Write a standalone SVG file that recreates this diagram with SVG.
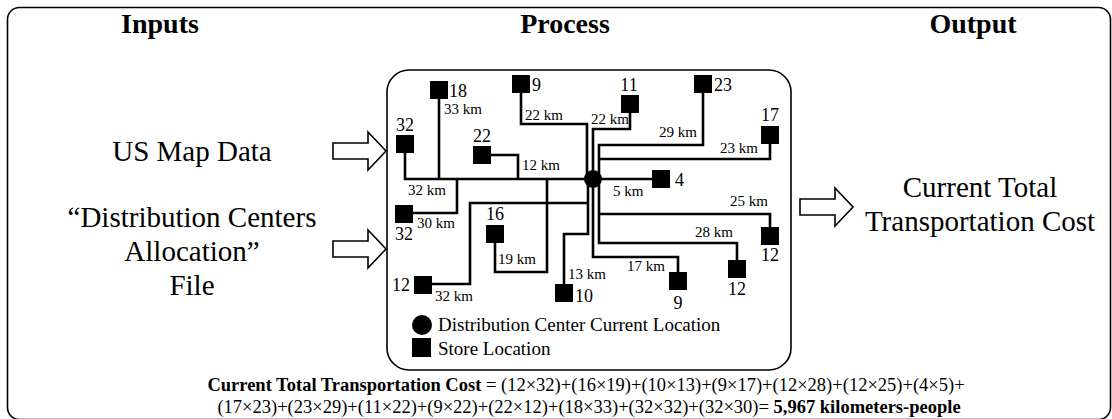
<svg xmlns="http://www.w3.org/2000/svg" width="1112" height="419" viewBox="0 0 1112 419">
<style>
text{font-family:"Liberation Serif","Times New Roman",serif;fill:#000}
.title{font-size:28px;font-weight:bold;text-anchor:middle}
.big{font-size:29px;text-anchor:middle}
.num{font-size:18px}
.km{font-size:15px}
.leg{font-size:19px}
.f{font-size:18.5px;text-anchor:middle}
.store{fill:#000}
.road{fill:none;stroke:#000;stroke-width:2.6;stroke-linejoin:miter}
.arrow{fill:#fff;stroke:#000;stroke-width:1.6}
</style>
<defs>
<path id="blk" d="M0,-8 H35 V-19 L53,0 L35,19 V8 H0 Z"/>
</defs>
<rect id="frame" x="7.5" y="7.5" width="1103" height="412" rx="12" fill="none" stroke="#000" stroke-width="1.6"/>
<g id="titles">
<text class="title" x="160" y="33">Inputs</text>
<text class="title" x="565" y="33">Process</text>
<text class="title" x="973" y="33">Output</text>
</g>
<g id="inputs">
<text class="big" x="192" y="161">US Map Data</text>
<text class="big" x="192" y="227">“Distribution Centers</text>
<text class="big" x="192" y="261">Allocation”</text>
<text class="big" x="192" y="295">File</text>
</g>
<g id="arrows">
<use href="#blk" class="arrow" x="333" y="151"/>
<use href="#blk" class="arrow" x="333" y="249"/>
<use href="#blk" class="arrow" x="800" y="207"/>
</g>
<g id="output">
<text class="big" x="980" y="197">Current Total</text>
<text class="big" x="980" y="231">Transportation Cost</text>
</g>
<rect id="process" x="387" y="70" width="404" height="300" rx="22" fill="none" stroke="#000" stroke-width="1.6"/>
<g id="connectors">
<polyline class="road" points="405,153 405,179 592,179"/>
<polyline class="road" points="439,98 439,179"/>
<polyline class="road" points="491,155 518,155 518,179"/>
<polyline class="road" points="413,213 457,213 457,179"/>
<polyline class="road" points="495,243 495,272 547,272 547,179"/>
<polyline class="road" points="432,284 470,284 470,203 588,203"/>
<polyline class="road" points="564,284 564,234 588,234 588,179"/>
<polyline class="road" points="521,93 521,124 587,124 587,179"/>
<polyline class="road" points="630,113 630,129 593,129 593,257 678,257 678,272"/>
<polyline class="road" points="703,93 703,145 599,145 599,243 737,243 737,260"/>
<polyline class="road" points="770,126 770,159 599,159"/>
<polyline class="road" points="599,214 770,214 770,227"/>
<polyline class="road" points="592,179 652,179"/>
</g>
<g id="dc"><circle cx="593" cy="179" r="9"/></g>
<g id="stores" class="store">
<rect x="430" y="81" width="18" height="18"/>
<rect x="396" y="135" width="18" height="18"/>
<rect x="473" y="146" width="18" height="18"/>
<rect x="512" y="75" width="18" height="18"/>
<rect x="621" y="95" width="18" height="18"/>
<rect x="694" y="75" width="18" height="18"/>
<rect x="761" y="126" width="18" height="18"/>
<rect x="652" y="170" width="18" height="18"/>
<rect x="395" y="205" width="18" height="18"/>
<rect x="761" y="227" width="18" height="18"/>
<rect x="486" y="225" width="18" height="18"/>
<rect x="728" y="260" width="18" height="18"/>
<rect x="414" y="276" width="18" height="18"/>
<rect x="669" y="272" width="18" height="18"/>
<rect x="555" y="284" width="18" height="18"/>
</g>
<g id="store-labels">
<text class="num" x="449" y="97">18</text>
<text class="num" x="405" y="131" text-anchor="middle">32</text>
<text class="num" x="482" y="142" text-anchor="middle">22</text>
<text class="num" x="532" y="91">9</text>
<text class="num" x="629" y="91" text-anchor="middle">11</text>
<text class="num" x="714" y="91">23</text>
<text class="num" x="770" y="121" text-anchor="middle">17</text>
<text class="num" x="675" y="186">4</text>
<text class="num" x="404" y="240" text-anchor="middle">32</text>
<text class="num" x="770" y="261" text-anchor="middle">12</text>
<text class="num" x="495" y="220" text-anchor="middle">16</text>
<text class="num" x="737" y="295" text-anchor="middle">12</text>
<text class="num" x="410" y="291" text-anchor="end">12</text>
<text class="num" x="678" y="309" text-anchor="middle">9</text>
<text class="num" x="575" y="302">10</text>
</g>
<g id="km-labels">
<text class="km" x="444" y="114">33 km</text>
<text class="km" x="525" y="120">22 km</text>
<text class="km" x="591" y="124">22 km</text>
<text class="km" x="659" y="137">29 km</text>
<text class="km" x="720" y="153">23 km</text>
<text class="km" x="522" y="170">12 km</text>
<text class="km" x="613" y="196">5 km</text>
<text class="km" x="408" y="195">32 km</text>
<text class="km" x="417" y="228">30 km</text>
<text class="km" x="730" y="206">25 km</text>
<text class="km" x="498" y="264">19 km</text>
<text class="km" x="695" y="237">28 km</text>
<text class="km" x="435" y="301">32 km</text>
<text class="km" x="568" y="279">13 km</text>
<text class="km" x="627" y="271">17 km</text>
</g>
<g id="legend">
<circle cx="422" cy="325" r="10"/>
<text class="leg" x="438" y="331">Distribution Center Current Location</text>
<rect x="412" y="338" width="19" height="19"/>
<text class="leg" x="438" y="355">Store Location</text>
</g>
<g id="formula">
<text class="f" x="586" y="391"><tspan font-weight="bold">Current Total Transportation Cost</tspan> = (12×32)+(16×19)+(10×13)+(9×17)+(12×28)+(12×25)+(4×5)+</text>
<text class="f" x="589" y="413">(17×23)+(23×29)+(11×22)+(9×22)+(22×12)+(18×33)+(32×32)+(32×30)= <tspan font-weight="bold">5,967 kilometers-people</tspan></text>
</g>
</svg>
